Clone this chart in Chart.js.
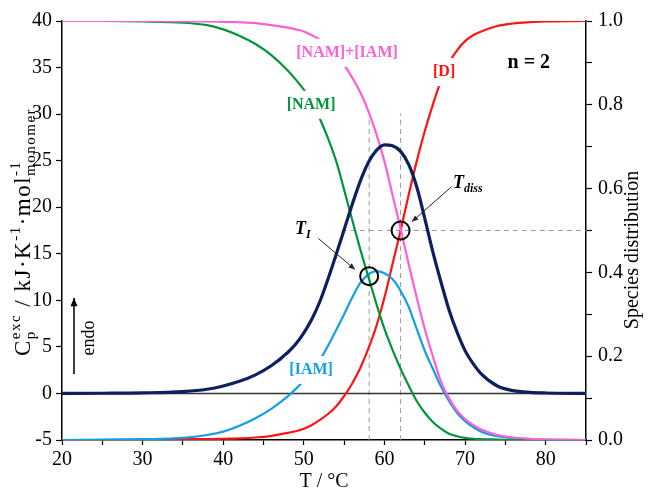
<!DOCTYPE html>
<html>
<head>
<meta charset="utf-8">
<script src="https://cdn.jsdelivr.net/npm/chart.js"></script>
<style>
  html, body { margin: 0; padding: 0; background: #fff; }
  #wrap { width: 648px; height: 492px; }
</style>
</head>
<body>
<div id="wrap"><canvas id="grafico" width="648" height="492"></canvas></div>
<script>
// Temperatura (°C)
const temps = [20, 25, 30, 35, 38, 40, 42, 44, 46, 48, 49, 50, 51, 52, 53, 54, 55, 56, 57, 58, 59, 60, 61, 62, 63, 64, 65, 66, 67, 68, 69, 70, 71, 72, 74, 76, 78, 80, 85];

// Cp exc (eixo esquerdo, kJ/K/mol)
const cpExc = [0, 0.02, 0.06, 0.2, 0.45, 0.8, 1.3, 2.0, 3.0, 4.4, 5.3, 6.5, 8.0, 9.9, 12.3, 14.9, 17.6, 20.3, 22.8, 24.8, 26.1, 26.7, 26.6, 26.0, 24.6, 22.2, 18.8, 15.2, 12.0, 9.0, 6.6, 4.6, 3.2, 2.1, 0.8, 0.3, 0.12, 0.05, 0];

// distribuição de espécies (eixo direito)
const nam = [1.0, 1.0, 0.999, 0.996, 0.99, 0.98, 0.965, 0.945, 0.918, 0.882, 0.86, 0.836, 0.808, 0.766, 0.72, 0.666, 0.597, 0.525, 0.455, 0.39, 0.325, 0.265, 0.215, 0.17, 0.13, 0.093, 0.065, 0.043, 0.027, 0.015, 0.009, 0.005, 0.003, 0.002, 0.001, 0, 0, 0, 0];
const namIam = [1.0, 1.0, 1.0, 0.999, 0.999, 0.998, 0.997, 0.995, 0.99, 0.984, 0.98, 0.975, 0.966, 0.955, 0.94, 0.92, 0.895, 0.865, 0.83, 0.785, 0.73, 0.665, 0.585, 0.505, 0.42, 0.34, 0.265, 0.2, 0.14, 0.1, 0.07, 0.05, 0.036, 0.025, 0.012, 0.006, 0.003, 0.001, 0];
const iam = [0, 0.001, 0.002, 0.005, 0.012, 0.02, 0.034, 0.052, 0.075, 0.104, 0.122, 0.142, 0.165, 0.192, 0.225, 0.262, 0.3, 0.34, 0.375, 0.395, 0.403, 0.398, 0.384, 0.356, 0.318, 0.265, 0.213, 0.17, 0.128, 0.093, 0.065, 0.045, 0.031, 0.02, 0.009, 0.004, 0.002, 0.001, 0];
const dimer = [0, 0, 0.001, 0.002, 0.002, 0.003, 0.004, 0.006, 0.01, 0.017, 0.021, 0.027, 0.036, 0.048, 0.062, 0.08, 0.105, 0.135, 0.172, 0.218, 0.272, 0.34, 0.42, 0.5, 0.585, 0.665, 0.737, 0.8, 0.857, 0.9, 0.93, 0.952, 0.966, 0.975, 0.988, 0.994, 0.997, 0.999, 1.0];

// linhas de referência e pontos marcados
const zeroLineT = [20, 85];
const tI = 58.1, tIfrac = 0.391;
const tDiss = 62.0, tDissFrac = 0.5;
const dashTopI = 29.4, dashTopDiss = 30.1;
const halfLineStart = 54.7;

const serif = "'Liberation Serif', 'Times New Roman', serif";
const cores = {
  navy: '#0c1f5e', green: '#00963c', pink: '#ff5fd6', red: '#ff1414', blue: '#139fe6'
};

const pts = arr => temps.map((t, i) => ({ x: t, y: arr[i] }));

// rótulos das curvas (posição em unidades dos dados, eixo direito)
const rotulos = [
  { text: '[NAM]+[IAM]', color: cores.pink, t: 55.36, s: 0.924 },
  { text: '[NAM]', color: cores.green, t: 50.9, s: 0.80 },
  { text: '[D]', color: cores.red, t: 67.4, s: 0.878 },
  { text: '[IAM]', color: cores.blue, t: 50.9, s: 0.167 }
];

function seta(ctx, x1, y1, x2, y2, head) {
  ctx.beginPath();
  ctx.moveTo(x1, y1);
  ctx.lineTo(x2, y2);
  ctx.stroke();
  const a = Math.atan2(y2 - y1, x2 - x1);
  ctx.beginPath();
  ctx.moveTo(x2, y2);
  ctx.lineTo(x2 - head * Math.cos(a - 0.4), y2 - head * Math.sin(a - 0.4));
  ctx.lineTo(x2 - head * Math.cos(a + 0.4), y2 - head * Math.sin(a + 0.4));
  ctx.closePath();
  ctx.fill();
}

// texto com sub/sobrescritos, girado -90°
function textoRico(ctx, partes, cx, cy, espaco) {
  ctx.letterSpacing = espaco + 'px';
  const larg = partes.map(p => {
    if (p.stack) {
      return Math.max(...p.stack.map(s => { ctx.font = s.size + 'px ' + serif; return ctx.measureText(s.t).width; }));
    }
    ctx.font = p.size + 'px ' + serif;
    return ctx.measureText(p.t).width;
  });
  const total = larg.reduce((a, b) => a + b, 0);
  ctx.save();
  ctx.translate(cx, cy);
  ctx.rotate(-Math.PI / 2);
  ctx.fillStyle = '#000';
  ctx.textBaseline = 'alphabetic';
  ctx.textAlign = 'left';
  let x = -total / 2;
  partes.forEach((p, i) => {
    const lista = p.stack ? p.stack : [p];
    lista.forEach(s => {
      ctx.font = s.size + 'px ' + serif;
      ctx.fillText(s.t, x, 7 + (s.dy || 0));
    });
    x += larg[i];
  });
  ctx.restore();
  ctx.letterSpacing = '0px';
}

const anotacoes = {
  id: 'anotacoes',
  afterDatasetsDraw(chart) {
    const { ctx, scales } = chart;
    const X = v => scales.x.getPixelForValue(v);
    const Y2 = v => scales.y2.getPixelForValue(v);
    ctx.save();

    // rótulos das curvas com fundo branco
    ctx.font = 'bold 16px ' + serif;
    ctx.textAlign = 'center';
    ctx.textBaseline = 'middle';
    rotulos.forEach(r => {
      const w = ctx.measureText(r.text).width;
      const px = X(r.t), py = Y2(r.s);
      ctx.fillStyle = '#fff';
      ctx.fillRect(px - w / 2 - 4, py - 14, w + 8, 28);
      ctx.fillStyle = r.color;
      ctx.fillText(r.text, px, py);
    });

    ctx.fillStyle = '#000';
    ctx.font = 'bold 20px ' + serif;
    ctx.fillText('n = 2', X(77.9), Y2(0.90));

    // T_I e T_diss
    ctx.textAlign = 'left';
    ctx.textBaseline = 'alphabetic';
    ctx.font = 'bold italic 18px ' + serif;
    let px = X(49.9) - 8, py = Y2(0.505) + 6;
    ctx.fillText('T', px, py);
    let w = ctx.measureText('T').width;
    ctx.font = 'bold italic 12px ' + serif;
    ctx.fillText('I', px + w, py + 4);
    ctx.font = 'bold italic 18px ' + serif;
    px = X(70.6) - 17; py = Y2(0.616) + 6;
    ctx.fillText('T', px, py);
    w = ctx.measureText('T').width;
    ctx.font = 'bold italic 12px ' + serif;
    ctx.fillText('diss', px + w, py + 4);

    // setas
    ctx.strokeStyle = '#222';
    ctx.fillStyle = '#222';
    ctx.lineWidth = 1;
    seta(ctx, X(51.8), Y2(0.481), X(56.35), Y2(0.407), 7);
    seta(ctx, X(68.35), Y2(0.605), X(63.4), Y2(0.521), 7);

    // endo
    ctx.strokeStyle = '#000';
    ctx.fillStyle = '#000';
    ctx.lineWidth = 1.5;
    seta(ctx, 74, 374, 74, 298, 9);
    ctx.save();
    ctx.translate(89, 338);
    ctx.rotate(-Math.PI / 2);
    ctx.font = '18px ' + serif;
    ctx.textAlign = 'center';
    ctx.textBaseline = 'middle';
    ctx.fillText('endo', 0, 0);
    ctx.restore();

    // títulos dos eixos verticais
    textoRico(ctx, [
      { t: 'C', size: 23 },
      { stack: [{ t: 'exc', size: 15, dy: -10 }, { t: 'p', size: 15, dy: 5 }] },
      { t: ' / kJ·K', size: 23 },
      { t: '-1', size: 15, dy: -10 },
      { t: '·mol', size: 23 },
      { stack: [{ t: '-1', size: 15, dy: -10 }, { t: 'monomer', size: 15, dy: 5 }] }
    ], 23, 232, 1.5);

    ctx.save();
    ctx.translate(633, 250);
    ctx.rotate(-Math.PI / 2);
    ctx.font = '20px ' + serif;
    ctx.textAlign = 'center';
    ctx.textBaseline = 'middle';
    ctx.fillStyle = '#000';
    ctx.fillText('Species distribution', 0, 0);
    ctx.restore();

    ctx.restore();
  }
};

const tickFont = { family: serif, size: 20 };
const ctx = document.getElementById('grafico').getContext('2d');
const grafico = new Chart(ctx, {
  type: 'line',
  data: {
    datasets: [
      { data: [{ x: tI, y: tIfrac }, { x: tDiss, y: tDissFrac }], yAxisID: 'y2', showLine: false,
        pointRadius: 9, pointBorderWidth: 2, pointBorderColor: '#000', pointBackgroundColor: 'rgba(0,0,0,0)', order: 0 },
      { data: pts(cpExc), yAxisID: 'y', borderColor: cores.navy, borderWidth: 3.2, order: 1 },
      { data: pts(namIam), yAxisID: 'y2', borderColor: cores.pink, borderWidth: 2.2, order: 2 },
      { data: pts(nam), yAxisID: 'y2', borderColor: cores.green, borderWidth: 2.2, order: 3 },
      { data: pts(iam), yAxisID: 'y2', borderColor: cores.blue, borderWidth: 2.2, order: 4 },
      { data: pts(dimer), yAxisID: 'y2', borderColor: cores.red, borderWidth: 2.2, order: 5 },
      { data: zeroLineT.map(t => ({ x: t, y: 0 })), yAxisID: 'y', borderColor: '#333', borderWidth: 1.5, order: 6 },
      { data: [{ x: tI, y: -5 }, { x: tI, y: dashTopI }], yAxisID: 'y', borderColor: '#9a9a9a', borderWidth: 1, borderDash: [5, 4], order: 7 },
      { data: [{ x: tDiss, y: -5 }, { x: tDiss, y: dashTopDiss }], yAxisID: 'y', borderColor: '#9a9a9a', borderWidth: 1, borderDash: [5, 4], order: 7 },
      { data: [{ x: halfLineStart, y: 0.5 }, { x: 85, y: 0.5 }], yAxisID: 'y2', borderColor: '#9a9a9a', borderWidth: 1, borderDash: [5, 4], order: 7 }
    ]
  },
  options: {
    responsive: false,
    animation: false,
    devicePixelRatio: 1,
    layout: { padding: { top: 21, left: 0, right: 0, bottom: 0 } },
    elements: {
      point: { radius: 0 },
      line: { cubicInterpolationMode: 'monotone', fill: false }
    },
    scales: {
      x: {
        type: 'linear', min: 20, max: 85,
        afterFit: s => { s.height = 52; },
        border: { color: '#000', width: 1.5 },
        grid: { drawOnChartArea: false, tickLength: 5, color: '#000', tickWidth: 1.2 },
        ticks: { stepSize: 5, autoSkip: false, maxRotation: 0, padding: 3, color: '#000', font: tickFont,
          callback: v => (v % 10 === 0 ? v : '') },
        title: { display: true, text: 'T / °C', color: '#000', font: { family: serif, size: 20 }, padding: { top: 0, bottom: -2 } }
      },
      y: {
        position: 'left', min: -5, max: 40,
        afterFit: s => { s.width = 62; },
        border: { color: '#000', width: 1.5 },
        grid: { drawOnChartArea: false, tickLength: 6, color: '#000', tickWidth: 1.2 },
        ticks: { stepSize: 5, autoSkip: false, padding: 4, color: '#000', font: tickFont }
      },
      y2: {
        position: 'right', min: 0, max: 1,
        afterFit: s => { s.width = 62; },
        border: { color: '#000', width: 1.5 },
        grid: { drawOnChartArea: false, tickLength: 6, color: '#000', tickWidth: 1.2 },
        ticks: { stepSize: 0.1, autoSkip: false, padding: 6, color: '#000', font: tickFont,
          callback: v => (Math.round(v * 10) % 2 === 0 ? v.toFixed(1) : '') }
      }
    },
    plugins: {
      legend: { display: false },
      tooltip: { enabled: false }
    }
  },
  plugins: [anotacoes]
});
</script>
</body>
</html>
